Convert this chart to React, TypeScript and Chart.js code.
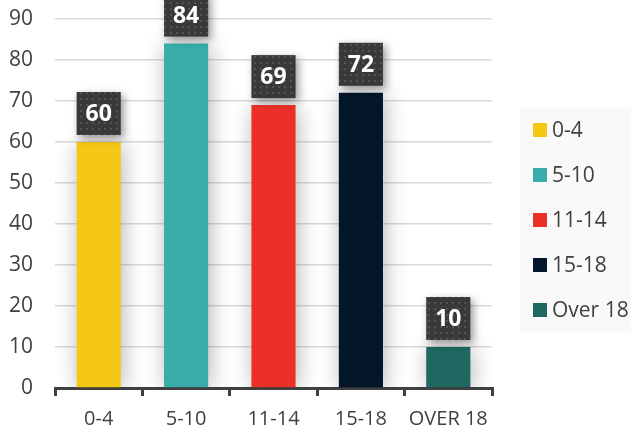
import React, { useEffect, useRef } from 'react';
import { Chart, registerables } from 'chart.js';
Chart.register(...registerables);

const categories = ['0-4', '5-10', '11-14', '15-18', 'OVER 18'];
const legendLabels = ['0-4', '5-10', '11-14', '15-18', 'Over 18'];
const values = [60, 84, 69, 72, 10];
const colors = ['#F6C715', '#38ADA9', '#EC3028', '#021529', '#1F6761'];
const yMin = 0;
const yMax = 90;
const yStep = 10;

const FONT = '"Open Sans", sans-serif';
const TEXT = '#404040';

export default function App() {
  const ref = useRef<HTMLCanvasElement>(null);
  useEffect(() => {
    const canvas = ref.current!;
    const ctx = canvas.getContext('2d')!;
    const pc = document.createElement('canvas');
    pc.width = 6;
    pc.height = 6;
    const p = pc.getContext('2d')!;
    p.fillStyle = '#393939';
    p.fillRect(0, 0, 6, 6);
    p.fillStyle = '#535353';
    p.fillRect(2, 2, 2, 2);
    const pattern = ctx.createPattern(pc, 'repeat')!;

    const plugin = {
      id: 'custom',
      beforeDatasetsDraw(chart: any) {
        const c = chart.ctx;
        c.save();
        c.shadowColor = 'rgba(0,0,0,0.3)';
        c.shadowBlur = 22;
        c.shadowOffsetX = 2;
        c.shadowOffsetY = 2;
      },
      afterDatasetsDraw(chart: any) {
        const c = chart.ctx;
        c.restore();
        const meta = chart.getDatasetMeta(0);
        meta.data.forEach((bar: any, i: number) => {
          const { x, y, width } = bar.getProps(['x', 'y', 'width'], true);
          const bh = 43;
          const left = x - width / 2;
          const top = y - 7 - bh;
          c.save();
          c.shadowColor = 'rgba(0,0,0,0.4)';
          c.shadowBlur = 8;
          c.shadowOffsetX = 3;
          c.shadowOffsetY = 3;
          c.fillStyle = pattern;
          c.fillRect(left, top, width, bh);
          c.restore();
          c.save();
          c.fillStyle = '#ffffff';
          c.font = 'bold 23px ' + FONT;
          c.textAlign = 'center';
          c.textBaseline = 'middle';
          c.fillText(String(values[i]), x, top + bh / 2 + 1);
          c.restore();
        });
      },
      afterDraw(chart: any) {
        const c = chart.ctx;
        c.save();
        c.fillStyle = '#f9f9f9';
        c.fillRect(520, 108, 111, 224);
        legendLabels.forEach((lab, i) => {
          const cy = 130 + i * 45;
          c.fillStyle = colors[i];
          c.fillRect(533, cy - 7, 14, 14);
          c.fillStyle = TEXT;
          c.font = '21px ' + FONT;
          c.textAlign = 'left';
          c.textBaseline = 'middle';
          c.fillText(lab, 552, cy + 1);
        });
        c.restore();
      },
    };

    const chart = new Chart(canvas, {
      type: 'bar',
      data: {
        labels: categories,
        datasets: [
          {
            data: values,
            backgroundColor: colors,
            borderWidth: 0,
            barPercentage: 0.505,
            categoryPercentage: 1,
          },
        ],
      },
      options: {
        responsive: false,
        animation: false,
        devicePixelRatio: 1,
        layout: { padding: { left: 8, right: 139, top: 19, bottom: 0 } },
        plugins: { legend: { display: false }, tooltip: { enabled: false } },
        scales: {
          y: {
            min: yMin,
            max: yMax,
            ticks: { stepSize: yStep, padding: 22, color: TEXT, font: { family: FONT, size: 21 } },
            grid: { color: '#dadada', lineWidth: 1.5, drawTicks: false },
            border: { display: false },
            afterFit(scale: any) {
              scale.width = 47;
              scale.paddingTop = 0;
              scale.paddingBottom = 0;
            },
          },
          x: {
            ticks: {
              padding: 11,
              color: TEXT,
              font: { family: FONT, size: 20 },
              autoSkip: false,
              maxRotation: 0,
              minRotation: 0,
            },
            grid: {
              display: true,
              drawOnChartArea: false,
              drawTicks: true,
              tickLength: 8,
              color: '#404040',
              lineWidth: 3,
              offset: true,
            },
            border: { display: true, color: '#404040', width: 3 },
            afterFit(scale: any) {
              scale.height = 46;
            },
          },
        },
      },
      plugins: [plugin],
    });
    return () => chart.destroy();
  }, []);
  return (
    <div style={{ position: 'fixed', left: 0, top: 0, width: 631, height: 434 }}>
      <canvas ref={ref} width={631} height={434} />
    </div>
  );
}
